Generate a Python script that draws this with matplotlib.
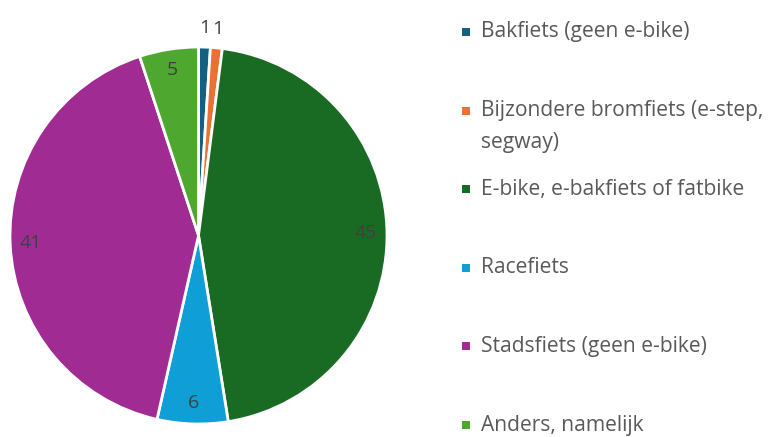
import matplotlib
matplotlib.use("Agg")
import matplotlib.pyplot as plt
from matplotlib.patches import Rectangle
import numpy as np

categories = ["Bakfiets (geen e-bike)", "Bijzondere bromfiets (e-step,\nsegway)",
              "E-bike, e-bakfiets of fatbike", "Racefiets",
              "Stadsfiets (geen e-bike)", "Anders, namelijk"]
values = [1, 1, 45, 6, 41, 5]
colors = ["#156082", "#E97132", "#196B24", "#0F9ED5", "#A02B93", "#4EA72E"]

plt.rcParams['font.family'] = ['Open Sans', 'DejaVu Sans']

W, H = 768, 437
fig = plt.figure(figsize=(W/100, H/100), dpi=100)
cx, cy, r = 198.5, 235.5, 188.5
ax = fig.add_axes([(cx - r)/W, (H - cy - r)/H, 2*r/W, 2*r/H])
wedges, _ = ax.pie(values, colors=colors, startangle=90, counterclock=False,
                   radius=1, wedgeprops=dict(edgecolor="white", linewidth=2))
ax.set_xlim(-1, 1)
ax.set_ylim(-1, 1)
ax.set_aspect("equal")
ax.axis("off")

for w, v in zip(wedges, values):
    mid = np.deg2rad((w.theta1 + w.theta2) / 2)
    d = 1.1 if v <= 2 else 0.89
    ax.text(d*np.cos(mid), d*np.sin(mid), str(v), ha="center", va="center",
            fontsize=14, color="#404040")

# legend
y0, step = 32, 78.6
for i, (lab, col) in enumerate(zip(categories, colors)):
    y = y0 + i*step
    fig.patches.append(Rectangle((462/W, 1 - (y + 4)/H), 8/W, 8/H,
                                 transform=fig.transFigure, facecolor=col,
                                 edgecolor="none"))
    for j, ln in enumerate(lab.split("\n")):
        fig.text(481/W, 1 - (y + j*32)/H, ln, ha="left", va="center",
                 fontsize=15.1, color="#595959")

fig.savefig("out.png", dpi=100)
